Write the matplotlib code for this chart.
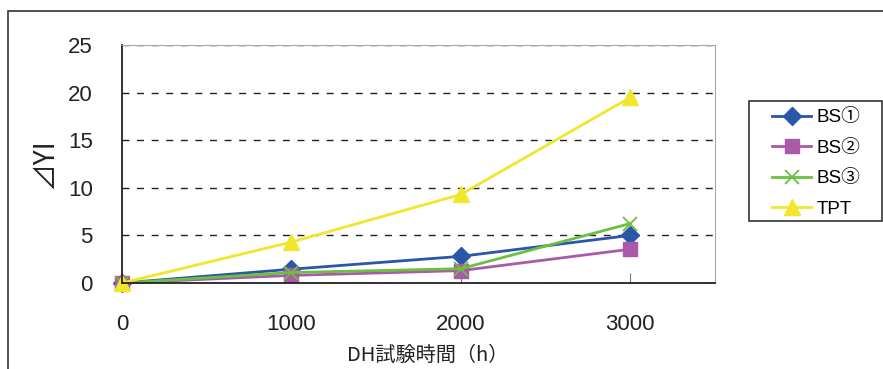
import matplotlib.pyplot as plt
from matplotlib.patches import Rectangle

hours = [0, 1000, 2000, 3000]
bs1 = [0, 1.45, 2.8, 5.0]
bs2 = [0, 0.8, 1.3, 3.55]
bs3 = [0, 1.1, 1.5, 6.25]
tpt = [0, 4.3, 9.3, 19.5]

series = [
    ("BS①", bs1, "#2b57a7", "D", 9),
    ("BS②", bs2, "#a95aa8", "s", 9.5),
    ("BS③", bs3, "#6cbf3f", "x", 10),
    ("TPT", tpt, "#f0e62c", "^", 12),
]

plt.rcParams['font.family'] = ['Liberation Sans', 'Noto Sans CJK JP', 'DejaVu Sans']

W, H = 883, 369
fig = plt.figure(figsize=(W / 100, H / 100), dpi=100)
ax = fig.add_axes([122 / W, 86 / H, 593 / W, 238 / H])


def fig_rect(x0, y0, x1, y1, **kw):
    # rectangle given in pixel coords measured from the top-left corner
    fig.patches.append(Rectangle((x0 / W, 1 - y1 / H), (x1 - x0) / W, (y1 - y0) / H,
                                 transform=fig.transFigure, fill=False, **kw))


# outer chart-area frame (runs off the right and bottom edges)
fig_rect(8, 11, W + 20, H + 20, edgecolor="#333333", linewidth=1.2)

for name, vals, color, marker, ms in series:
    kw = dict(markeredgewidth=1.3) if marker == "x" else dict(markeredgecolor=color)
    ax.plot(hours, vals, color=color, marker=marker, markersize=ms,
            linewidth=2, label=name, clip_on=False, **kw)

ax.set_xlim(0, 3500)
ax.set_ylim(0, 25)
ax.set_xticks([0, 1000, 2000, 3000])
ax.set_yticks([0, 5, 10, 15, 20, 25])

ax.yaxis.grid(True, linestyle=(0, (5, 5.5)), color="#222222", linewidth=1)
ax.set_axisbelow(True)
ax.spines['top'].set_color("#a8a8a8")
ax.spines['right'].set_color("#a8a8a8")
ax.spines['left'].set_color("#222222")
ax.spines['bottom'].set_color("#222222")
ax.spines['left'].set_linewidth(1.3)
ax.spines['bottom'].set_linewidth(1.3)

ax.tick_params(axis='x', direction='in', length=7, color="#777777",
               pad=22, labelsize=16, labelcolor="#222222")
ax.tick_params(axis='y', length=0, pad=21, labelsize=16, labelcolor="#222222")

cjk = ['Noto Sans CJK JP', 'DejaVu Sans']
fig.text(428 / W, 1 - 355 / H, "DH試験時間（h）", fontsize=14.5, ha='center',
         va='center', color="#222222", family=cjk)
fig.text(44 / W, 1 - 164 / H, "⊿YI", rotation=90, fontsize=20,
         ha='center', va='center', color="#222222", family=cjk)

# legend frame drawn separately so its padding can differ from the row spacing
fig_rect(749, 101, 882, 221, edgecolor="#333333", linewidth=1.2)
leg = ax.legend(loc='upper left', bbox_to_anchor=(772 / W, 1 - 109 / H),
                bbox_transform=fig.transFigure, fontsize=13.5, frameon=False,
                borderpad=0, borderaxespad=0, handlelength=2.1,
                labelspacing=0.72, handletextpad=0.3)

fig.savefig("out.png", dpi=100)
